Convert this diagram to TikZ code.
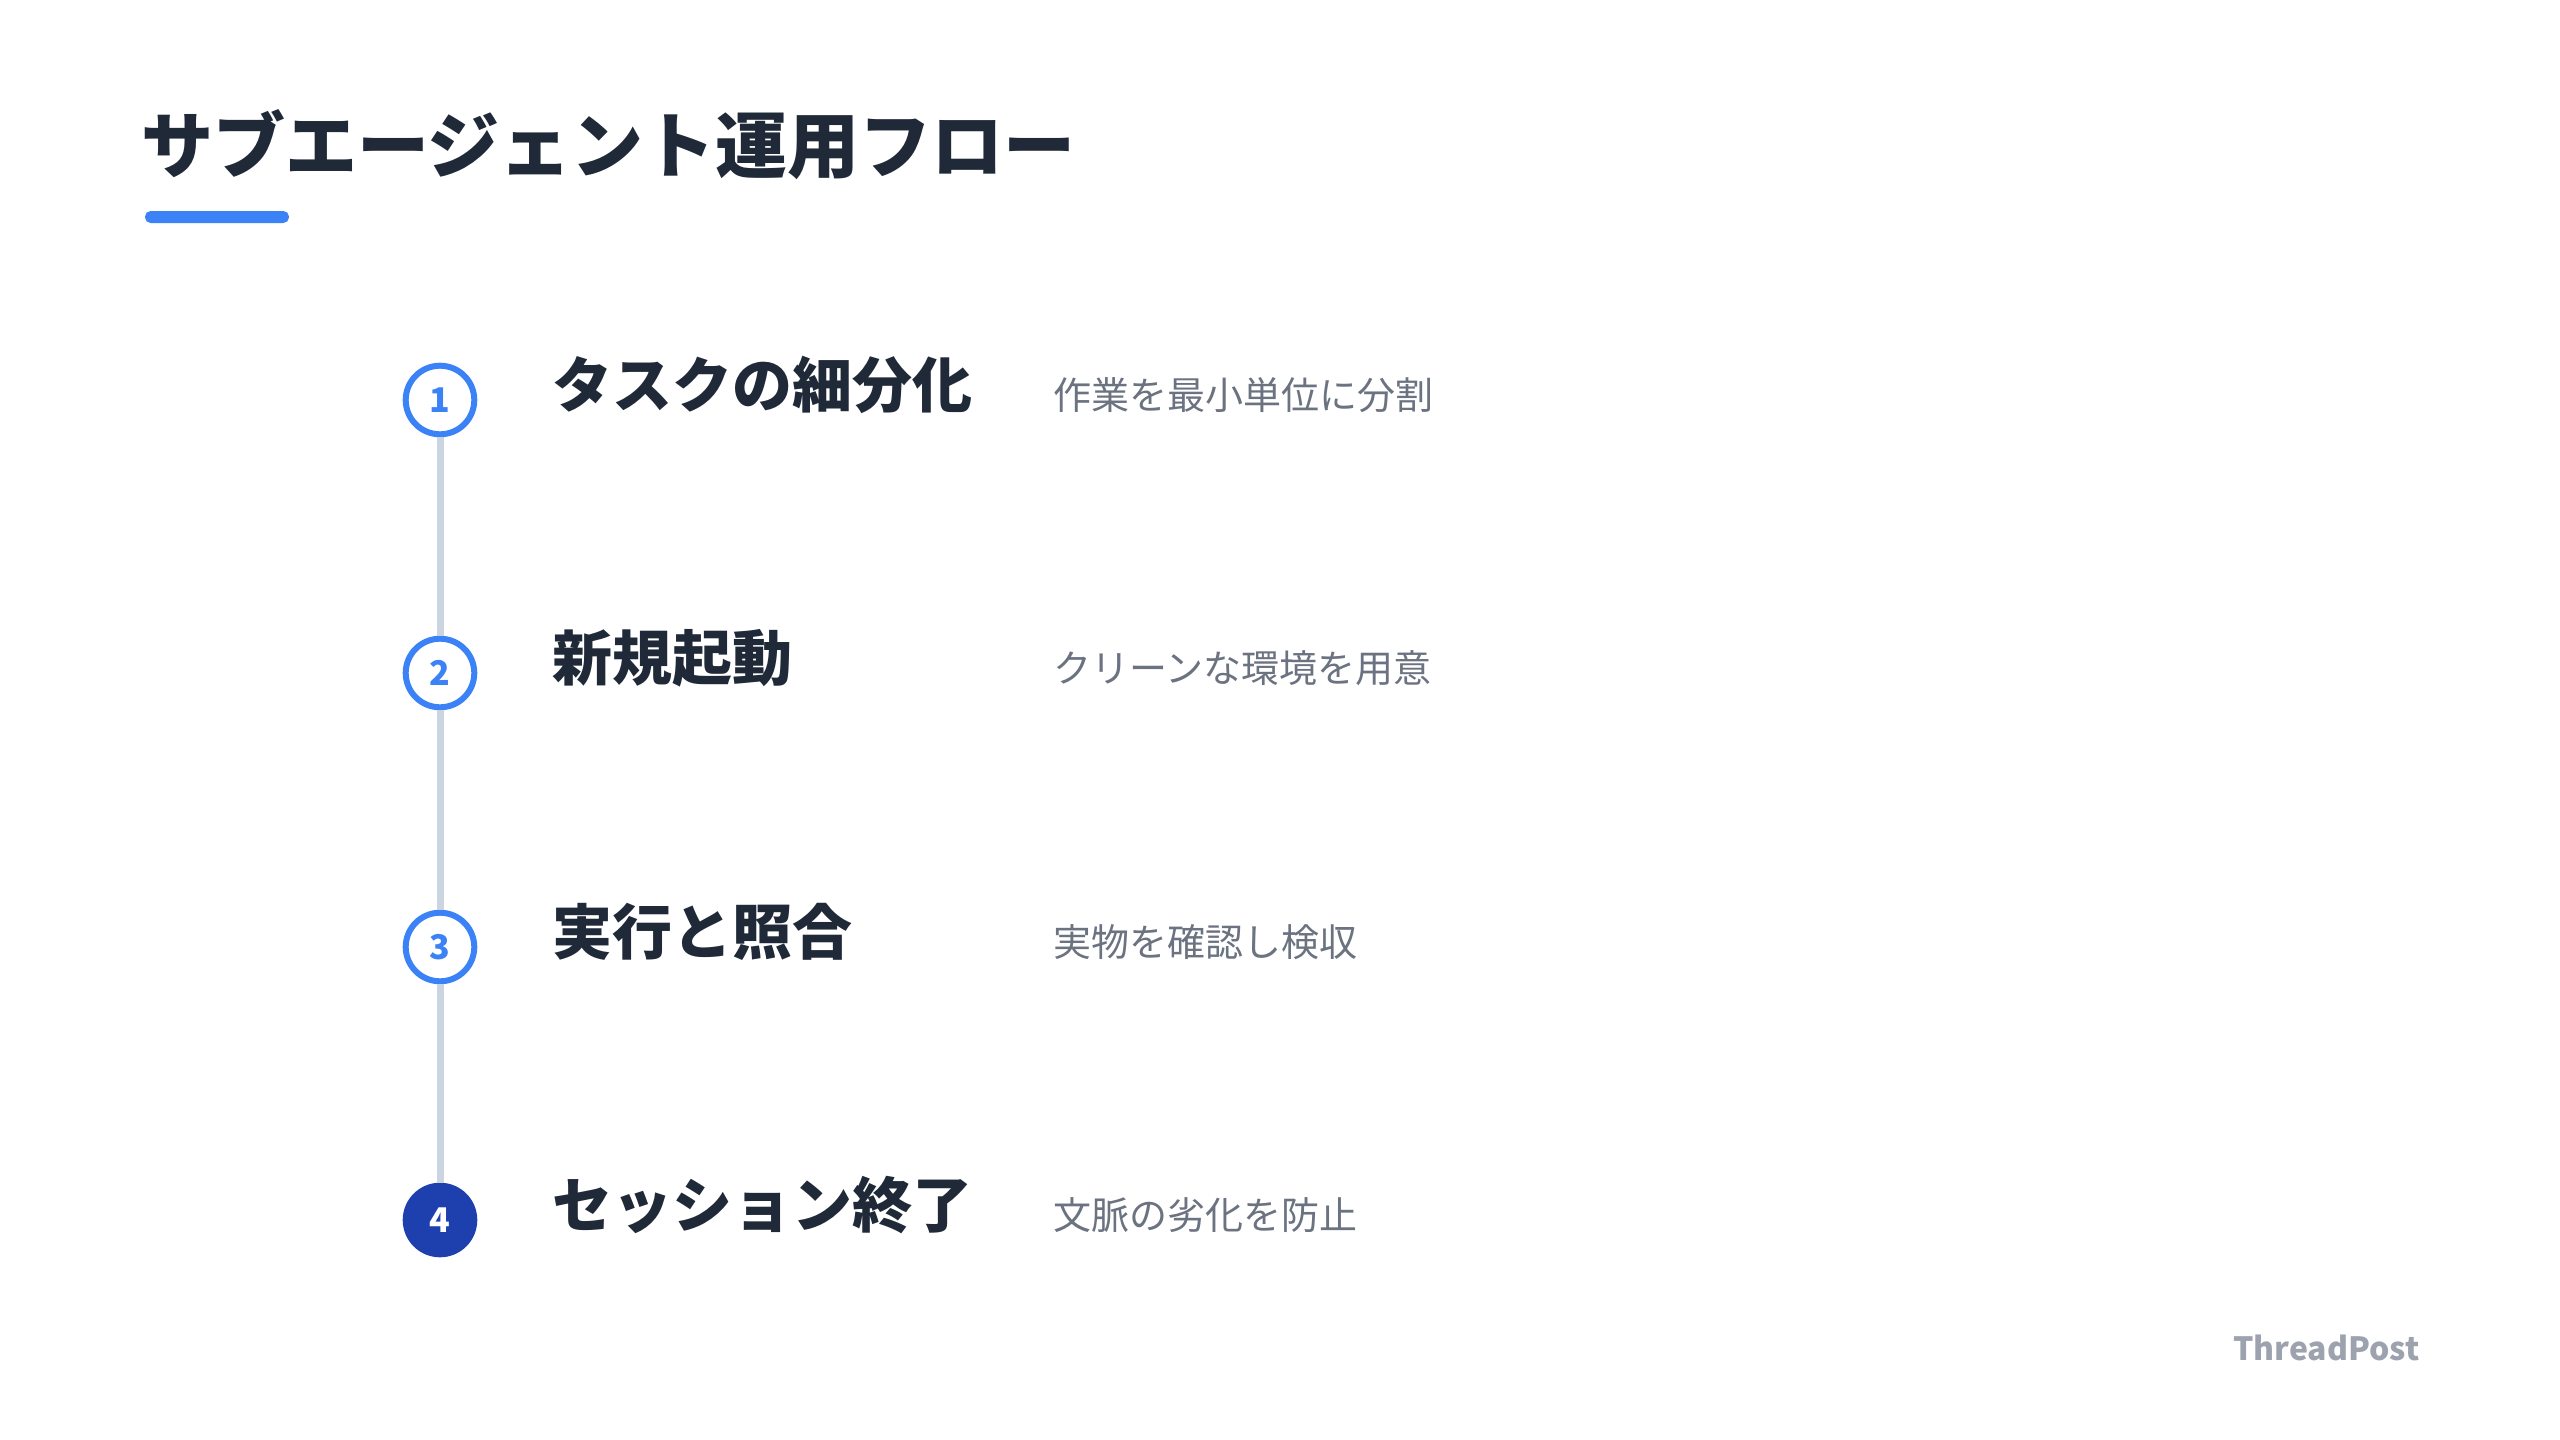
\documentclass[tikz,border=0pt]{standalone}
\usepackage{fontspec}
\setmainfont{Noto Sans CJK JP}
\usepackage{tikz}
\usetikzlibrary{positioning}

\definecolor{Ink}{HTML}{1F2937}
\definecolor{Accent}{HTML}{3B82F6}
\definecolor{Deep}{HTML}{1E40AF}
\definecolor{RailGray}{HTML}{CBD5E1}
\definecolor{Muted}{HTML}{6B7280}
\definecolor{Brand}{HTML}{9CA3AF}

\begin{document}
\begin{tikzpicture}[x=0.5pt,y=-0.5pt]
			\tikzstyle{Heading}	= [anchor=base west, inner sep=0pt, text=Ink, font=\bfseries\fontsize{36pt}{40pt}\selectfont]
			\tikzstyle{Marker}	= [circle, draw=Accent, line width=3pt, fill=white, minimum size=34.3pt, inner sep=0pt, text=Accent, font=\bfseries\fontsize{17pt}{18pt}\selectfont]
			\tikzstyle{Done}	= [draw=Deep, fill=Deep, text=white]
			\tikzstyle{StepName}	= [anchor=base west, inner sep=0pt, text=Ink, font=\bfseries\fontsize{30pt}{34pt}\selectfont]
			\tikzstyle{StepNote}	= [anchor=base west, inner sep=0pt, text=Muted, font=\fontsize{19pt}{22pt}\selectfont]
			\tikzstyle{RailLine}	= [line width=3.5pt, RailGray]
			
			\useasboundingbox (0,0) rectangle (2560,1440);
			
			\node (title) at (141,172) [Heading] {サブエージェント運用フロー};
			\fill [Accent, rounded corners=2.8pt] (145,211) rectangle (289,223);
			
			\node (s1) at (440,400) [Marker] {1};
			\node (s2) at (440,673) [Marker] {2};
			\node (s3) at (440,947) [Marker] {3};
			\node (s4) at (440,1220) [Marker, Done] {4};
			
			\draw [-] (s1) to (s2) [RailLine];
			\draw [-] (s2) to (s3) [RailLine];
			\draw [-] (s3) to (s4) [RailLine];
			
			\node (n1) at (552,407) [StepName] {タスクの細分化};
			\node (n2) at (552,680) [StepName] {新規起動};
			\node (n3) at (552,954) [StepName] {実行と照合};
			\node (n4) at (552,1227) [StepName] {セッション終了};
			
			\node (d1) at (1053,409) [StepNote] {作業を最小単位に分割};
			\node (d2) at (1053,682) [StepNote] {クリーンな環境を用意};
			\node (d3) at (1053,956) [StepNote] {実物を確認し検収};
			\node (d4) at (1053,1229) [StepNote] {文脈の劣化を防止};
			
			\node (brand) at (2420,1360) [anchor=base east, inner sep=0pt, text=Brand, font=\bfseries\fontsize{16pt}{19pt}\selectfont] {ThreadPost};
			
		\end{tikzpicture}
\end{document}
